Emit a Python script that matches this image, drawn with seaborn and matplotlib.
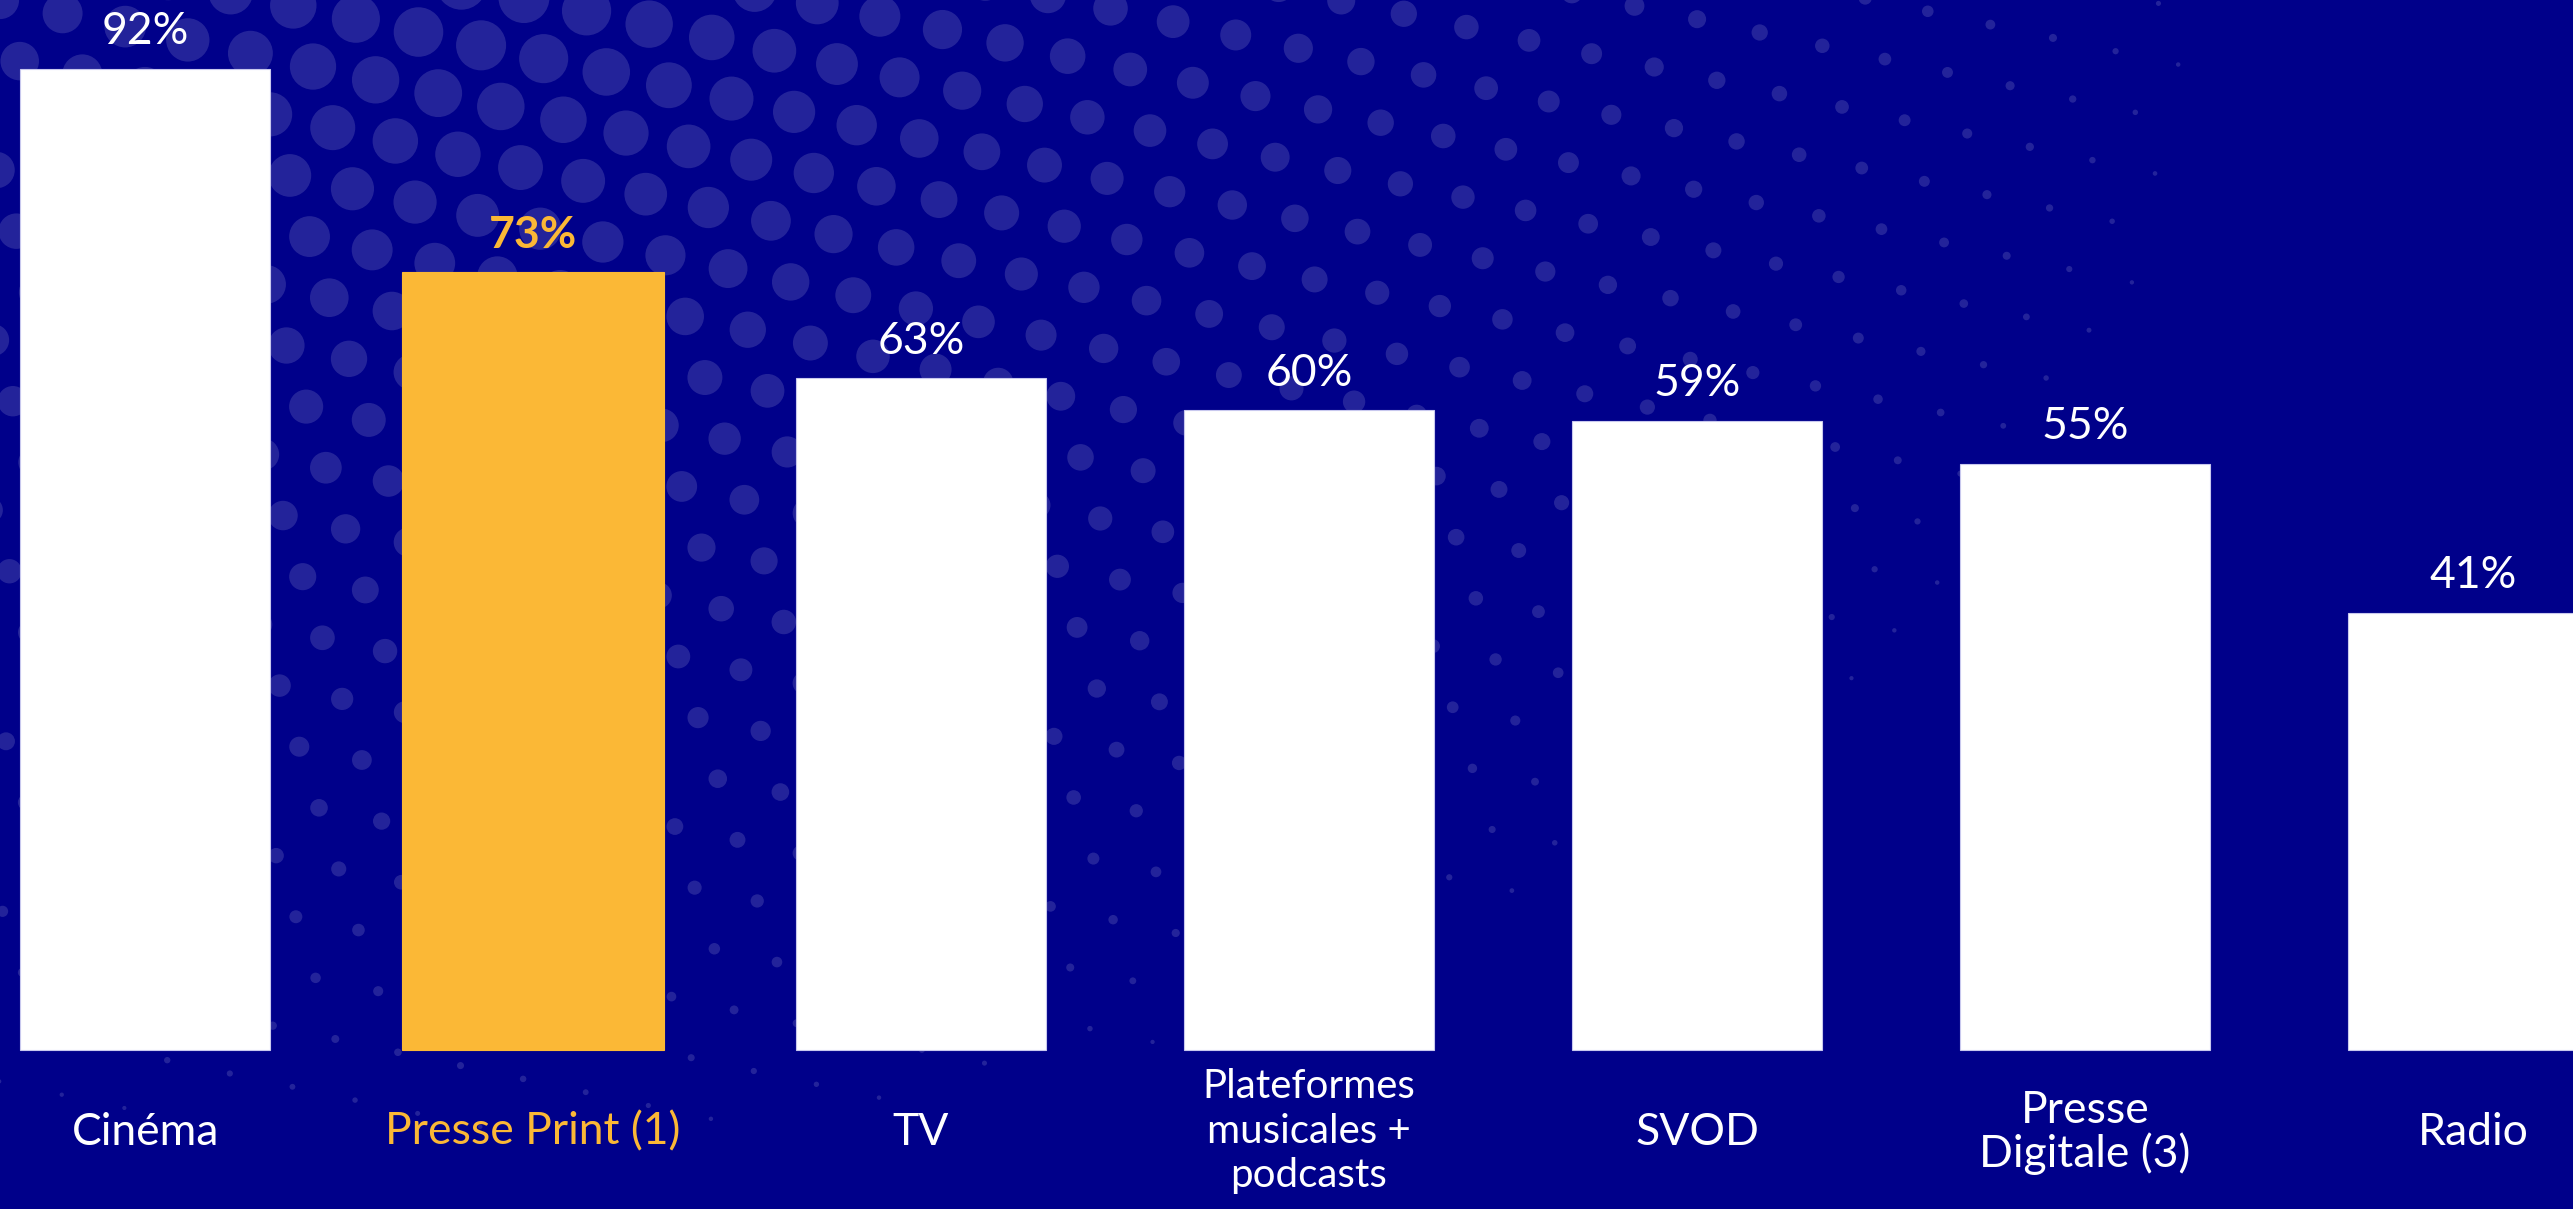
import numpy as np
import matplotlib
matplotlib.use("Agg")
import matplotlib.pyplot as plt
import seaborn as sns

# chart data
categories = ["Cinéma", "Presse Print (1)", "TV", "Plateformes\nmusicales +\npodcasts",
              "SVOD", "Presse\nDigitale (3)", "Radio"]
values = [92, 73, 63, 60, 59, 55, 41]
highlight = "Presse Print (1)"

NAVY = "#00008a"
YELLOW = "#fbb836"
WHITE = "#ffffff"

sns.set_style("white")
plt.rcParams["font.family"] = ["Lato", "DejaVu Sans"]

W, H = 2573, 1209
fig = plt.figure(figsize=(W / 100, H / 100), dpi=100, facecolor=NAVY)

# decorative halftone background (pixel coordinates)
bg = fig.add_axes([0, 0, 1, 1])
bg.set_xlim(0, W)
bg.set_ylim(H, 0)
bg.axis("off")
step = 64
ang = np.deg2rad(12)
gx, gy = np.meshgrid(np.arange(-40, 60), np.arange(-40, 60))
px = (gx + 0.5 * (gy % 2)) * step
py = gy * step * 0.87
rx = px * np.cos(ang) - py * np.sin(ang)
ry = px * np.sin(ang) + py * np.cos(ang)
dist = np.sqrt((rx - 490) ** 2 + (1.5 * (ry - 0)) ** 2)
diam = 52 * (1 - dist / 1850)
keep = (diam > 4) & (rx > -50) & (rx < W + 50) & (ry > -50) & (ry < H + 50)
bg.scatter(rx[keep], ry[keep], s=(diam[keep] * 0.72) ** 2, color="white",
           alpha=0.14, linewidths=0)

# bars
ax = fig.add_axes([0, 0, 1, 1])
ax.set_facecolor("none")
palette = {c: (YELLOW if c == highlight else WHITE) for c in categories}
sns.barplot(x=categories, y=values, hue=categories, palette=palette, legend=False,
            width=0.645, saturation=1, ax=ax, edgecolor="#c8c8ee", linewidth=0.8)
# highlighted bar is drawn a little wider, without border
for i, p in enumerate(ax.patches[:len(categories)]):
    if categories[i] == highlight:
        p.set_width(0.675)
        p.set_x(i - 0.3375)
        p.set_edgecolor(YELLOW)
ax.set_xlim(-0.374, 6.258)
ax.set_ylim(-14.9, 98.5)
ax.axis("off")

for i, (c, v) in enumerate(zip(categories, values)):
    hl = c == highlight
    col = YELLOW if hl else WHITE
    ax.text(i, v + 3.5, f"{v}%", ha="center", va="center", color=col,
            fontsize=32, fontweight="bold" if hl else "normal")
    three = c.count("\n") > 1
    ax.text(i, -7.6 if three else -7.7, c, ha="center", va="center", color=col,
            fontsize=29 if three else 32, linespacing=1.25 if three else 1.05,
            multialignment="center")

fig.savefig("out.png", dpi=100, facecolor=NAVY)
